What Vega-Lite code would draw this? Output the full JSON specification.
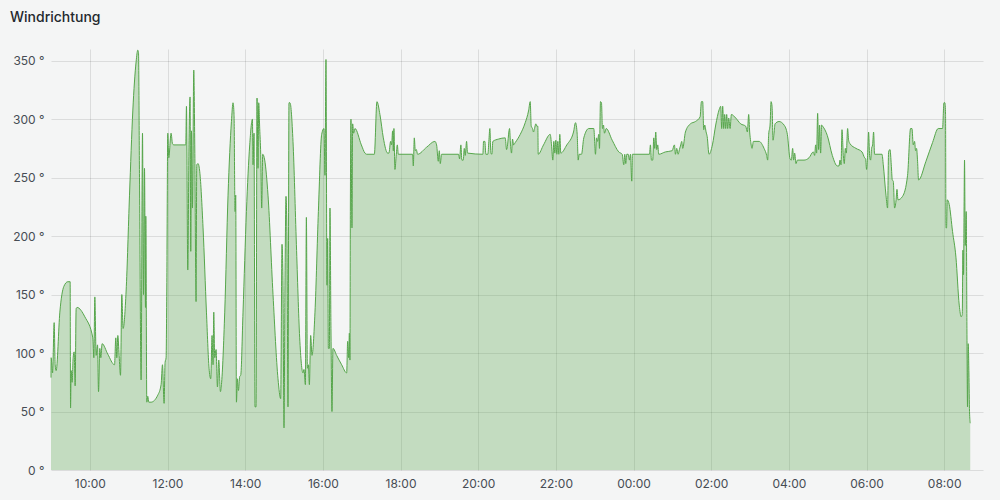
{
  "$schema": "https://vega.github.io/schema/vega-lite/v6.json",
  "width": 932,
  "height": 421,
  "autosize": "none",
  "padding": {"left": 51, "top": 49, "right": 17, "bottom": 30},
  "background": "#f4f5f5",
  "title": {"text": "Windrichtung", "anchor": "start", "frame": "group", "dx": -41, "offset": 12, "baseline": "alphabetic", "font": "Inter", "fontSize": 14, "fontWeight": 500, "color": "#24292e"},
  "config": {"view": {"stroke": null}, "axis": {"labelFont": "Inter", "labelFontSize": 12, "labelColor": "#464c54", "gridColor": "#000000", "gridOpacity": 0.1, "domain": false, "ticks": false, "tickSize": 0, "title": null}},
  "data": {"values": [
    {"t":"2024-06-10T09:00:00","v":79},{"t":"2024-06-10T09:00:15","v":96},{"t":"2024-06-10T09:02:25","v":83},{"t":"2024-06-10T09:04:53","v":126},{"t":"2024-06-10T09:06:25","v":90},{"t":"2024-06-10T09:07:58","v":85},{"t":"2024-06-10T09:13:41","v":135},{"t":"2024-06-10T09:19:52","v":157},{"t":"2024-06-10T09:26:02","v":161},{"t":"2024-06-10T09:29:35","v":161},{"t":"2024-06-10T09:30:12","v":53},{"t":"2024-06-10T09:31:08","v":85},{"t":"2024-06-10T09:32:40","v":75},{"t":"2024-06-10T09:34:13","v":96},{"t":"2024-06-10T09:35:46","v":101},{"t":"2024-06-10T09:37:18","v":72},{"t":"2024-06-10T09:38:51","v":138},{"t":"2024-06-10T09:40:23","v":139},{"t":"2024-06-10T09:52:17","v":131},{"t":"2024-06-10T10:04:38","v":113},{"t":"2024-06-10T10:06:11","v":96},{"t":"2024-06-10T10:07:43","v":148},{"t":"2024-06-10T10:09:44","v":98},{"t":"2024-06-10T10:11:53","v":107},{"t":"2024-06-10T10:13:26","v":67},{"t":"2024-06-10T10:15:26","v":104},{"t":"2024-06-10T10:16:59","v":96},{"t":"2024-06-10T10:18:59","v":108},{"t":"2024-06-10T10:27:47","v":99},{"t":"2024-06-10T10:38:08","v":90},{"t":"2024-06-10T10:40:08","v":113},{"t":"2024-06-10T10:41:41","v":96},{"t":"2024-06-10T10:43:14","v":115},{"t":"2024-06-10T10:45:14","v":98},{"t":"2024-06-10T10:47:24","v":81},{"t":"2024-06-10T10:49:25","v":150},{"t":"2024-06-10T10:51:25","v":121},{"t":"2024-06-10T10:56:03","v":153},{"t":"2024-06-10T11:01:18","v":235},{"t":"2024-06-10T11:06:23","v":307},{"t":"2024-06-10T11:11:29","v":349},{"t":"2024-06-10T11:14:07","v":359},{"t":"2024-06-10T11:15:11","v":357},{"t":"2024-06-10T11:16:44","v":250},{"t":"2024-06-10T11:19:13","v":77},{"t":"2024-06-10T11:21:22","v":288},{"t":"2024-06-10T11:22:55","v":150},{"t":"2024-06-10T11:24:27","v":258},{"t":"2024-06-10T11:26:00","v":139},{"t":"2024-06-10T11:26:28","v":217},{"t":"2024-06-10T11:28:01","v":58},{"t":"2024-06-10T11:29:33","v":63},{"t":"2024-06-10T11:31:06","v":58},{"t":"2024-06-10T11:34:39","v":58},{"t":"2024-06-10T11:44:59","v":64},{"t":"2024-06-10T11:50:05","v":73},{"t":"2024-06-10T11:52:15","v":90},{"t":"2024-06-10T11:54:43","v":57},{"t":"2024-06-10T11:56:16","v":92},{"t":"2024-06-10T11:57:49","v":96},{"t":"2024-06-10T11:58:53","v":153},{"t":"2024-06-10T12:00:26","v":288},{"t":"2024-06-10T12:01:58","v":267},{"t":"2024-06-10T12:05:32","v":288},{"t":"2024-06-10T12:07:41","v":279},{"t":"2024-06-10T12:09:42","v":278},{"t":"2024-06-10T12:28:13","v":278},
    {"t":"2024-06-10T12:29:18","v":311},{"t":"2024-06-10T12:31:19","v":171},{"t":"2024-06-10T12:33:19","v":284},{"t":"2024-06-10T12:34:52","v":319},{"t":"2024-06-10T12:35:56","v":187},{"t":"2024-06-10T12:37:01","v":290},{"t":"2024-06-10T12:38:34","v":224},{"t":"2024-06-10T12:40:35","v":342},{"t":"2024-06-10T12:42:07","v":278},{"t":"2024-06-10T12:44:08","v":144},{"t":"2024-06-10T12:45:13","v":261},{"t":"2024-06-10T12:47:13","v":262},{"t":"2024-06-10T12:49:50","v":255},{"t":"2024-06-10T12:54:56","v":207},{"t":"2024-06-10T13:00:11","v":135},{"t":"2024-06-10T13:04:12","v":87},{"t":"2024-06-10T13:06:49","v":78},{"t":"2024-06-10T13:08:50","v":115},{"t":"2024-06-10T13:10:22","v":90},{"t":"2024-06-10T13:11:28","v":135},{"t":"2024-06-10T13:13:00","v":96},{"t":"2024-06-10T13:15:01","v":103},{"t":"2024-06-10T13:17:10","v":71},{"t":"2024-06-10T13:19:11","v":94},{"t":"2024-06-10T13:21:48","v":67},{"t":"2024-06-10T13:23:20","v":73},{"t":"2024-06-10T13:28:26","v":135},{"t":"2024-06-10T13:33:32","v":235},{"t":"2024-06-10T13:38:47","v":298},{"t":"2024-06-10T13:41:15","v":314},{"t":"2024-06-10T13:42:48","v":304},{"t":"2024-06-10T13:44:20","v":221},{"t":"2024-06-10T13:45:25","v":235},{"t":"2024-06-10T13:46:30","v":58},{"t":"2024-06-10T13:48:03","v":78},{"t":"2024-06-10T13:49:35","v":68},{"t":"2024-06-10T13:51:36","v":80},{"t":"2024-06-10T13:53:08","v":81},{"t":"2024-06-10T13:56:41","v":135},{"t":"2024-06-10T14:01:56","v":221},{"t":"2024-06-10T14:07:02","v":278},{"t":"2024-06-10T14:11:13","v":300},{"t":"2024-06-10T14:12:08","v":261},{"t":"2024-06-10T14:13:41","v":288},{"t":"2024-06-10T14:15:13","v":54},{"t":"2024-06-10T14:16:46","v":54},{"t":"2024-06-10T14:18:19","v":318},{"t":"2024-06-10T14:19:51","v":258},{"t":"2024-06-10T14:20:56","v":314},{"t":"2024-06-10T14:22:29","v":292},{"t":"2024-06-10T14:24:01","v":270},{"t":"2024-06-10T14:25:34","v":224},{"t":"2024-06-10T14:27:07","v":270},{"t":"2024-06-10T14:30:12","v":265},{"t":"2024-06-10T14:35:17","v":235},{"t":"2024-06-10T14:43:01","v":150},{"t":"2024-06-10T14:50:44","v":78},{"t":"2024-06-10T14:54:54","v":61},{"t":"2024-06-10T14:56:55","v":193},{"t":"2024-06-10T14:58:27","v":158},{"t":"2024-06-10T15:00:00","v":36},{"t":"2024-06-10T15:01:32","v":158},{"t":"2024-06-10T15:03:05","v":234},{"t":"2024-06-10T15:04:38","v":195},{"t":"2024-06-10T15:06:10","v":54},{"t":"2024-06-10T15:07:43","v":314},{"t":"2024-06-10T15:09:16","v":314},{"t":"2024-06-10T15:13:54","v":281},{"t":"2024-06-10T15:19:08","v":193},{"t":"2024-06-10T15:24:14","v":113},{"t":"2024-06-10T15:29:20","v":83},{"t":"2024-06-10T15:30:53","v":86},{"t":"2024-06-10T15:33:02","v":73},{"t":"2024-06-10T15:34:35","v":216},{"t":"2024-06-10T15:36:08","v":87},{"t":"2024-06-10T15:37:40","v":90},{"t":"2024-06-10T15:39:13","v":73},{"t":"2024-06-10T15:41:13","v":115},{"t":"2024-06-10T15:43:14","v":98},
    {"t":"2024-06-10T15:47:52","v":135},{"t":"2024-06-10T15:53:07","v":221},{"t":"2024-06-10T15:58:13","v":287},{"t":"2024-06-10T16:01:46","v":292},{"t":"2024-06-10T16:03:18","v":252},{"t":"2024-06-10T16:04:51","v":351},{"t":"2024-06-10T16:06:23","v":158},{"t":"2024-06-10T16:07:28","v":198},{"t":"2024-06-10T16:08:33","v":104},{"t":"2024-06-10T16:10:06","v":104},{"t":"2024-06-10T16:11:01","v":224},{"t":"2024-06-10T16:12:34","v":121},{"t":"2024-06-10T16:14:07","v":50},{"t":"2024-06-10T16:15:40","v":104},{"t":"2024-06-10T16:21:22","v":98},{"t":"2024-06-10T16:29:05","v":90},{"t":"2024-06-10T16:36:49","v":83},{"t":"2024-06-10T16:38:21","v":110},{"t":"2024-06-10T16:39:54","v":96},{"t":"2024-06-10T16:40:59","v":117},{"t":"2024-06-10T16:41:54","v":94},{"t":"2024-06-10T16:42:31","v":221},{"t":"2024-06-10T16:43:27","v":300},{"t":"2024-06-10T16:44:59","v":207},{"t":"2024-06-10T16:46:04","v":296},{"t":"2024-06-10T16:47:37","v":288},{"t":"2024-06-10T16:49:37","v":292},{"t":"2024-06-10T16:59:30","v":278},{"t":"2024-06-10T17:05:04","v":271},{"t":"2024-06-10T17:07:41","v":270},{"t":"2024-06-10T17:19:35","v":270},{"t":"2024-06-10T17:23:35","v":315},{"t":"2024-06-10T17:28:13","v":304},{"t":"2024-06-10T17:33:28","v":284},{"t":"2024-06-10T17:40:07","v":271},{"t":"2024-06-10T17:42:07","v":271},{"t":"2024-06-10T17:44:44","v":281},{"t":"2024-06-10T17:46:17","v":278},{"t":"2024-06-10T17:47:50","v":290},{"t":"2024-06-10T17:48:55","v":273},{"t":"2024-06-10T17:49:50","v":292},{"t":"2024-06-10T17:51:23","v":257},{"t":"2024-06-10T17:53:32","v":270},{"t":"2024-06-10T17:55:05","v":278},{"t":"2024-06-10T17:56:38","v":270},{"t":"2024-06-10T18:18:43","v":270},{"t":"2024-06-10T18:19:47","v":260},{"t":"2024-06-10T18:21:20","v":284},{"t":"2024-06-10T18:22:53","v":273},{"t":"2024-06-10T18:24:25","v":274},{"t":"2024-06-10T18:26:26","v":270},{"t":"2024-06-10T18:40:20","v":276},{"t":"2024-06-10T18:53:08","v":281},{"t":"2024-06-10T18:55:46","v":278},{"t":"2024-06-10T18:58:23","v":264},{"t":"2024-06-10T18:59:56","v":273},{"t":"2024-06-10T19:01:29","v":262},{"t":"2024-06-10T19:03:29","v":270},{"t":"2024-06-10T19:29:44","v":270},
    {"t":"2024-06-10T19:31:17","v":266},{"t":"2024-06-10T19:33:17","v":278},{"t":"2024-06-10T19:34:50","v":265},{"t":"2024-06-10T19:36:59","v":265},{"t":"2024-06-10T19:38:32","v":275},{"t":"2024-06-10T19:40:05","v":269},{"t":"2024-06-10T19:42:05","v":281},{"t":"2024-06-10T19:43:38","v":271},{"t":"2024-06-10T20:07:15","v":270},{"t":"2024-06-10T20:08:20","v":281},{"t":"2024-06-10T20:10:21","v":281},{"t":"2024-06-10T20:11:53","v":270},{"t":"2024-06-10T20:14:59","v":270},{"t":"2024-06-10T20:16:31","v":281},{"t":"2024-06-10T20:18:04","v":292},{"t":"2024-06-10T20:19:37","v":271},{"t":"2024-06-10T20:21:09","v":270},{"t":"2024-06-10T20:22:42","v":281},{"t":"2024-06-10T20:31:30","v":283},{"t":"2024-06-10T20:41:51","v":284},{"t":"2024-06-10T20:43:51","v":274},{"t":"2024-06-10T20:45:24","v":278},{"t":"2024-06-10T20:47:24","v":289},{"t":"2024-06-10T20:48:29","v":292},{"t":"2024-06-10T20:50:01","v":278},{"t":"2024-06-10T20:51:34","v":271},{"t":"2024-06-10T20:53:07","v":283},{"t":"2024-06-10T20:54:39","v":278},{"t":"2024-06-10T20:57:17","v":280},{"t":"2024-06-10T21:05:00","v":287},{"t":"2024-06-10T21:12:43","v":297},{"t":"2024-06-10T21:17:49","v":307},{"t":"2024-06-10T21:20:26","v":315},{"t":"2024-06-10T21:21:59","v":294},{"t":"2024-06-10T21:23:59","v":292},{"t":"2024-06-10T21:25:32","v":289},{"t":"2024-06-10T21:27:05","v":292},{"t":"2024-06-10T21:29:05","v":296},{"t":"2024-06-10T21:30:38","v":294},{"t":"2024-06-10T21:32:11","v":294},{"t":"2024-06-10T21:32:47","v":270},{"t":"2024-06-10T21:40:59","v":278},{"t":"2024-06-10T21:51:19","v":287},{"t":"2024-06-10T21:53:20","v":278},{"t":"2024-06-10T21:55:20","v":265},{"t":"2024-06-10T21:56:53","v":281},{"t":"2024-06-10T21:58:25","v":271},{"t":"2024-06-10T21:59:58","v":282},{"t":"2024-06-10T22:01:31","v":270},{"t":"2024-06-10T22:03:03","v":281},{"t":"2024-06-10T22:04:36","v":270},{"t":"2024-06-10T22:06:08","v":287},{"t":"2024-06-10T22:07:41","v":271},{"t":"2024-06-10T22:16:57","v":278},{"t":"2024-06-10T22:27:18","v":289},{"t":"2024-06-10T22:30:23","v":297},
    {"t":"2024-06-10T22:33:01","v":287},{"t":"2024-06-10T22:34:33","v":265},{"t":"2024-06-10T22:36:06","v":270},{"t":"2024-06-10T22:39:39","v":270},{"t":"2024-06-10T22:43:12","v":284},{"t":"2024-06-10T22:50:55","v":292},{"t":"2024-06-10T22:58:38","v":292},{"t":"2024-06-10T23:01:16","v":270},{"t":"2024-06-10T23:02:49","v":284},{"t":"2024-06-10T23:04:21","v":281},{"t":"2024-06-10T23:06:22","v":287},{"t":"2024-06-10T23:07:26","v":275},{"t":"2024-06-10T23:08:59","v":315},{"t":"2024-06-10T23:10:32","v":314},{"t":"2024-06-10T23:12:04","v":292},{"t":"2024-06-10T23:13:37","v":295},{"t":"2024-06-10T23:15:10","v":288},{"t":"2024-06-10T23:17:47","v":292},{"t":"2024-06-10T23:27:03","v":282},{"t":"2024-06-10T23:37:14","v":272},{"t":"2024-06-10T23:42:29","v":270},{"t":"2024-06-10T23:44:58","v":261},{"t":"2024-06-10T23:46:30","v":270},{"t":"2024-06-10T23:48:03","v":262},{"t":"2024-06-10T23:49:35","v":270},{"t":"2024-06-10T23:51:45","v":270},{"t":"2024-06-10T23:53:46","v":265},{"t":"2024-06-10T23:55:18","v":270},{"t":"2024-06-10T23:57:19","v":247},{"t":"2024-06-10T23:58:23","v":270},{"t":"2024-06-11T00:24:38","v":270},{"t":"2024-06-11T00:26:11","v":278},{"t":"2024-06-11T00:27:44","v":265},{"t":"2024-06-11T00:29:44","v":265},{"t":"2024-06-11T00:31:17","v":284},{"t":"2024-06-11T00:32:49","v":275},{"t":"2024-06-11T00:34:22","v":289},{"t":"2024-06-11T00:35:55","v":274},{"t":"2024-06-11T00:37:28","v":278},{"t":"2024-06-11T00:39:00","v":270},{"t":"2024-06-11T00:49:20","v":272},{"t":"2024-06-11T00:59:41","v":273},{"t":"2024-06-11T01:03:14","v":278},{"t":"2024-06-11T01:04:47","v":270},{"t":"2024-06-11T01:06:47","v":275},{"t":"2024-06-11T01:08:57","v":270},{"t":"2024-06-11T01:10:58","v":274},{"t":"2024-06-11T01:12:58","v":278},{"t":"2024-06-11T01:14:31","v":281},{"t":"2024-06-11T01:16:03","v":275},{"t":"2024-06-11T01:20:13","v":289},{"t":"2024-06-11T01:27:56","v":296},{"t":"2024-06-11T01:35:40","v":298},{"t":"2024-06-11T01:42:55","v":302},{"t":"2024-06-11T01:44:56","v":315},{"t":"2024-06-11T01:46:56","v":315},{"t":"2024-06-11T01:48:29","v":291},{"t":"2024-06-11T01:50:01","v":295},{"t":"2024-06-11T01:52:11","v":289},{"t":"2024-06-11T01:53:53","v":285},{"t":"2024-06-11T01:56:40","v":270},
    {"t":"2024-06-11T02:01:55","v":278},{"t":"2024-06-11T02:07:01","v":295},{"t":"2024-06-11T02:12:16","v":308},{"t":"2024-06-11T02:14:44","v":311},{"t":"2024-06-11T02:16:16","v":292},{"t":"2024-06-11T02:17:49","v":311},{"t":"2024-06-11T02:19:22","v":292},{"t":"2024-06-11T02:20:54","v":304},{"t":"2024-06-11T02:22:27","v":292},{"t":"2024-06-11T02:24:00","v":304},{"t":"2024-06-11T02:25:32","v":292},{"t":"2024-06-11T02:27:05","v":301},{"t":"2024-06-11T02:29:15","v":292},{"t":"2024-06-11T02:31:15","v":304},{"t":"2024-06-11T02:37:53","v":301},{"t":"2024-06-11T02:45:37","v":296},{"t":"2024-06-11T02:53:20","v":294},{"t":"2024-06-11T02:55:57","v":289},{"t":"2024-06-11T02:57:58","v":304},{"t":"2024-06-11T02:59:30","v":289},{"t":"2024-06-11T03:01:03","v":281},{"t":"2024-06-11T03:03:13","v":275},{"t":"2024-06-11T03:05:13","v":281},{"t":"2024-06-11T03:14:01","v":281},{"t":"2024-06-11T03:21:44","v":275},{"t":"2024-06-11T03:25:45","v":269},{"t":"2024-06-11T03:27:18","v":265},{"t":"2024-06-11T03:28:50","v":287},{"t":"2024-06-11T03:31:00","v":295},{"t":"2024-06-11T03:32:33","v":315},{"t":"2024-06-11T03:34:05","v":311},{"t":"2024-06-11T03:35:38","v":282},{"t":"2024-06-11T03:37:11","v":288},{"t":"2024-06-11T03:38:43","v":296},{"t":"2024-06-11T03:44:54","v":298},{"t":"2024-06-11T03:52:37","v":295},{"t":"2024-06-11T03:57:43","v":287},{"t":"2024-06-11T04:01:53","v":266},{"t":"2024-06-11T04:03:53","v":265},{"t":"2024-06-11T04:05:53","v":275},{"t":"2024-06-11T04:07:26","v":265},{"t":"2024-06-11T04:08:59","v":271},{"t":"2024-06-11T04:11:08","v":262},{"t":"2024-06-11T04:13:09","v":265},{"t":"2024-06-11T04:23:30","v":265},{"t":"2024-06-11T04:31:13","v":267},{"t":"2024-06-11T04:37:51","v":272},{"t":"2024-06-11T04:39:52","v":269},{"t":"2024-06-11T04:41:25","v":278},{"t":"2024-06-11T04:42:57","v":271},{"t":"2024-06-11T04:44:30","v":305},{"t":"2024-06-11T04:46:02","v":274},{"t":"2024-06-11T04:47:35","v":295},{"t":"2024-06-11T04:49:08","v":271},{"t":"2024-06-11T04:50:40","v":295},{"t":"2024-06-11T04:52:13","v":294},{"t":"2024-06-11T04:59:28","v":286},{"t":"2024-06-11T05:07:11","v":269},{"t":"2024-06-11T05:14:55","v":260},{"t":"2024-06-11T05:17:32","v":260},{"t":"2024-06-11T05:19:05","v":265},{"t":"2024-06-11T05:20:37","v":261},{"t":"2024-06-11T05:22:10","v":291},
    {"t":"2024-06-11T05:24:11","v":269},{"t":"2024-06-11T05:25:43","v":262},{"t":"2024-06-11T05:27:16","v":275},{"t":"2024-06-11T05:28:49","v":271},{"t":"2024-06-11T05:30:49","v":292},{"t":"2024-06-11T05:32:22","v":282},{"t":"2024-06-11T05:34:31","v":279},{"t":"2024-06-11T05:43:47","v":275},{"t":"2024-06-11T05:53:03","v":272},{"t":"2024-06-11T05:57:04","v":267},{"t":"2024-06-11T05:58:37","v":266},{"t":"2024-06-11T06:00:09","v":257},{"t":"2024-06-11T06:01:42","v":269},{"t":"2024-06-11T06:03:14","v":289},{"t":"2024-06-11T06:04:47","v":269},{"t":"2024-06-11T06:06:20","v":265},{"t":"2024-06-11T06:07:52","v":275},{"t":"2024-06-11T06:09:25","v":278},{"t":"2024-06-11T06:10:58","v":289},{"t":"2024-06-11T06:12:30","v":270},{"t":"2024-06-11T06:23:56","v":270},{"t":"2024-06-11T06:25:56","v":261},{"t":"2024-06-11T06:30:06","v":235},{"t":"2024-06-11T06:32:34","v":224},{"t":"2024-06-11T06:34:07","v":272},{"t":"2024-06-11T06:36:17","v":274},{"t":"2024-06-11T06:38:17","v":261},{"t":"2024-06-11T06:39:50","v":248},{"t":"2024-06-11T06:41:23","v":247},{"t":"2024-06-11T06:43:23","v":224},{"t":"2024-06-11T06:45:32","v":230},{"t":"2024-06-11T06:47:05","v":240},{"t":"2024-06-11T06:48:38","v":231},{"t":"2024-06-11T06:55:44","v":234},{"t":"2024-06-11T07:03:27","v":252},{"t":"2024-06-11T07:08:05","v":292},{"t":"2024-06-11T07:10:15","v":292},{"t":"2024-06-11T07:12:15","v":278},{"t":"2024-06-11T07:14:16","v":281},{"t":"2024-06-11T07:15:49","v":273},{"t":"2024-06-11T07:17:21","v":275},{"t":"2024-06-11T07:18:54","v":264},{"t":"2024-06-11T07:20:26","v":248},{"t":"2024-06-11T07:31:52","v":264},{"t":"2024-06-11T07:42:03","v":280},{"t":"2024-06-11T07:50:51","v":292},{"t":"2024-06-11T07:57:30","v":292},{"t":"2024-06-11T07:59:39","v":314},{"t":"2024-06-11T08:01:12","v":314},{"t":"2024-06-11T08:02:08","v":304},{"t":"2024-06-11T08:02:45","v":207},{"t":"2024-06-11T08:03:40","v":207},{"t":"2024-06-11T08:04:45","v":231},{"t":"2024-06-11T08:07:50","v":227},{"t":"2024-06-11T08:12:56","v":204},{"t":"2024-06-11T08:18:11","v":182},{"t":"2024-06-11T08:23:17","v":141},{"t":"2024-06-11T08:26:22","v":131},{"t":"2024-06-11T08:27:55","v":133},{"t":"2024-06-11T08:29:00","v":188},{"t":"2024-06-11T08:29:55","v":167},{"t":"2024-06-11T08:31:28","v":265},{"t":"2024-06-11T08:32:33","v":192},{"t":"2024-06-11T08:34:05","v":221},{"t":"2024-06-11T08:35:10","v":121},{"t":"2024-06-11T08:36:05","v":54},{"t":"2024-06-11T08:37:10","v":108},{"t":"2024-06-11T08:38:15","v":83},{"t":"2024-06-11T08:39:11","v":50},{"t":"2024-06-11T08:40:16","v":40}
  ]},
  "encoding": {
    "x": {"field": "t", "type": "temporal",
      "scale": {"domain": [{"year": 2024, "month": 6, "date": 10, "hours": 9}, {"year": 2024, "month": 6, "date": 11, "hours": 9}]},
      "axis": {"format": "%H:%M", "labelPadding": 8, "grid": true,
        "values": [
          {"year": 2024, "month": 6, "date": 10, "hours": 10},
          {"year": 2024, "month": 6, "date": 10, "hours": 12},
          {"year": 2024, "month": 6, "date": 10, "hours": 14},
          {"year": 2024, "month": 6, "date": 10, "hours": 16},
          {"year": 2024, "month": 6, "date": 10, "hours": 18},
          {"year": 2024, "month": 6, "date": 10, "hours": 20},
          {"year": 2024, "month": 6, "date": 10, "hours": 22},
          {"year": 2024, "month": 6, "date": 11, "hours": 0},
          {"year": 2024, "month": 6, "date": 11, "hours": 2},
          {"year": 2024, "month": 6, "date": 11, "hours": 4},
          {"year": 2024, "month": 6, "date": 11, "hours": 6},
          {"year": 2024, "month": 6, "date": 11, "hours": 8}
        ]}},
    "y": {"field": "v", "type": "quantitative",
      "scale": {"domain": [0, 360], "nice": false},
      "axis": {"values": [0, 50, 100, 150, 200, 250, 300, 350], "labelExpr": "datum.value + ' °'", "labelPadding": 7, "grid": true}}
  },
  "layer": [
    {"mark": {"type": "area", "interpolate": "monotone", "color": "#56a64b", "fillOpacity": 0.31}},
    {"mark": {"type": "line", "interpolate": "monotone", "color": "#56a64b", "strokeWidth": 1}}
  ]
}
